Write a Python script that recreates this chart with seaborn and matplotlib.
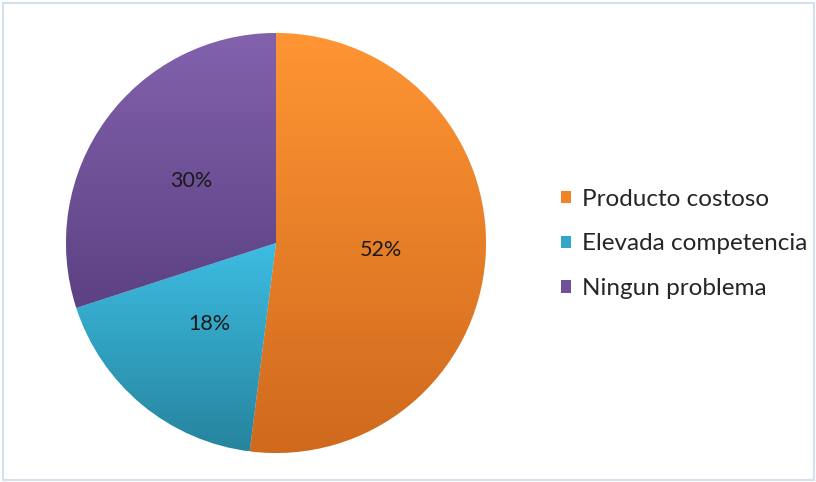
import numpy as np
import matplotlib
matplotlib.use("Agg")
import matplotlib.pyplot as plt
from matplotlib.colors import to_rgb
from matplotlib.patches import Rectangle
import seaborn as sns

sns.set_theme(style="white")
plt.rcParams["font.family"] = ["Lato", "DejaVu Sans"]

# Chart data
categories = ["Producto costoso", "Elevada competencia", "Ningun problema"]
shares = [52, 18, 30]

# Vertical gradient per slice: light at the top, darker at the bottom
top_colors = ["#FF9533", "#3DBDE2", "#8262AD"]
bottom_colors = ["#CF691D", "#26849E", "#5C4183"]
mid_colors = ["#F08228", "#32A6C8", "#6F519A"]

fig = plt.figure(figsize=(8.16, 4.82), dpi=100)
fig.patch.set_facecolor("white")

W, H = 816, 482
cx, cy, r = 276, 482 - 243, 210
ax = fig.add_axes([(cx - r) / W, (cy - r) / H, 2 * r / W, 2 * r / H])

wedges, texts, autotexts = ax.pie(
    shares,
    colors=mid_colors,
    startangle=90,
    counterclock=False,
    radius=1.0,
    autopct="%1.0f%%",
    pctdistance=0.5,
    wedgeprops=dict(edgecolor="white", linewidth=0.6),
    textprops=dict(fontsize=15.5, color="#1a1a1a"),
)

# Fill each wedge with its own gradient, clipped to the wedge outline
for w, c_top, c_bot in zip(wedges, top_colors, bottom_colors):
    verts = w.get_path().vertices
    x0, x1 = verts[:, 0].min(), verts[:, 0].max()
    y0, y1 = verts[:, 1].min(), verts[:, 1].max()
    t = np.linspace(0, 1, 256)[:, None]
    ct, cb = np.array(to_rgb(c_top)), np.array(to_rgb(c_bot))
    grad = (ct[None, :] * (1 - t) + cb[None, :] * t)[:, None, :]
    im = ax.imshow(grad, extent=[x0, x1, y0, y1], origin="upper",
                   aspect="auto", zorder=w.get_zorder() + 0.1,
                   interpolation="bilinear")
    im.set_clip_path(w)

for txt in autotexts:
    txt.set_zorder(5)

ax.set_xlim(-1, 1)
ax.set_ylim(-1, 1)
ax.set_aspect("equal")
ax.axis("off")

# Legend with square swatches
leg = fig.legend(
    wedges, categories,
    loc="center left",
    bbox_to_anchor=(539 / W, (482 - 244) / H),
    frameon=False,
    fontsize=17.5,
    handlelength=0.41,
    handleheight=0.41,
    handletextpad=0.45,
    labelspacing=0.97,
)
for h in leg.legend_handles:
    h.set_edgecolor("none")

# Light outer frame around the chart area
fig.patches.append(Rectangle((3 / W, 2 / H), 811 / W, 477 / H,
                             transform=fig.transFigure, fill=False,
                             edgecolor="#D5E1EE", linewidth=1.5))

fig.savefig("out.png", dpi=100, facecolor="white")
